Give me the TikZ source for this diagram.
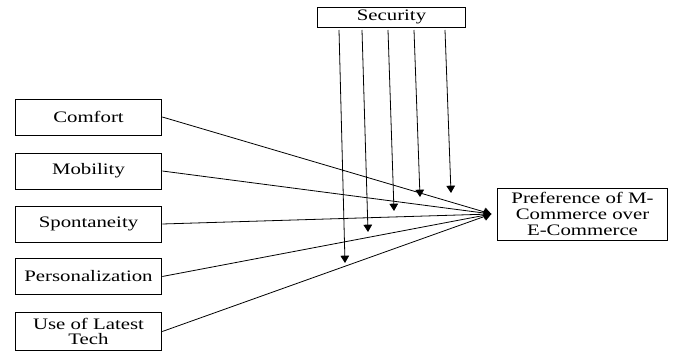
\documentclass[tikz,border=0pt]{standalone}
\usepackage{fontspec}
\setmainfont{Liberation Serif}[FakeStretch=1.3]
\usetikzlibrary{arrows.meta}

\tikzset{
  factor/.style={draw, line width=0.7pt, inner sep=0pt, align=center,
    minimum width=110pt, minimum height=27pt,
    font=\fontsize{12}{11.8}\selectfont},
  link/.style={line width=0.6pt, -{Triangle[length=5.5pt,width=6.5pt]}}
}

\begin{document}
\begin{tikzpicture}[x=0.75pt, y=-0.75pt]
  \useasboundingbox (0,0) rectangle (674,352);

  % moderator on top
  \node[factor, minimum width=111pt, minimum height=15pt] (security) at (391.5,17) {Security};

  % factors on the left
  \node[factor] (comfort)  at (88.5,117)   {Comfort};
  \node[factor] (mobility) at (88.5,171)   {Mobility};
  \node[factor] (spont)    at (88.5,224)   {Spontaneity};
  \node[factor] (person)   at (88.5,276.5) {Personalization};
  \node[factor, minimum height=28pt] (tech) at (88.5,331.5) {Use of Latest\\Tech};

  % outcome
  \node[factor, minimum width=128pt, minimum height=39pt] (pref) at (582.5,214)
    {Preference of M-\\Commerce over\\E-Commerce};

  % factor links
  \foreach \n in {comfort,mobility,spont,person,tech}
    \draw[link] (\n.east) -- ([xshift=-4]pref.west);

  % security arrows
  \foreach \xa/\xb/\yb [count=\i] in {339/345/263, 362/368/232, 388/394/211, 414/420/197, 445/451/193}
  {
    \coordinate (s\i) at (\xa,30);
    \coordinate (e\i) at (\xb,\yb);
    \draw[link] (s\i) -- (e\i);
  }

\end{tikzpicture}
\end{document}
